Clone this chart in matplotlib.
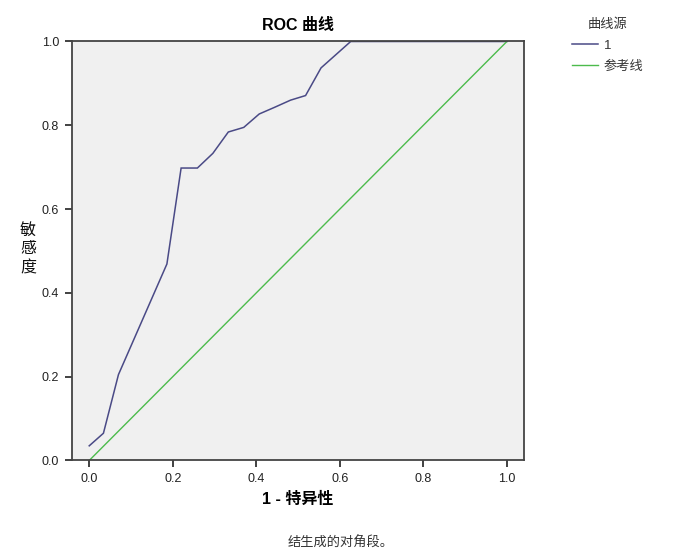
import matplotlib
matplotlib.use("Agg")
import matplotlib.pyplot as plt
from matplotlib.lines import Line2D

plt.rcParams['font.family'] = ['Liberation Sans', 'Noto Sans CJK SC', 'DejaVu Sans']

# ROC curve data (1 - specificity, sensitivity)
fpr = [0.0, 0.034, 0.070, 0.186, 0.220, 0.259, 0.296, 0.333, 0.370, 0.407, 0.444, 0.482, 0.518, 0.555, 0.626, 1.0]
tpr = [0.035, 0.065, 0.205, 0.469, 0.698, 0.698, 0.733, 0.784, 0.795, 0.827, 0.843, 0.860, 0.871, 0.937, 1.0, 1.0]
ref_x = [0.0, 1.0]
ref_y = [0.0, 1.0]
ticks = [0.0, 0.2, 0.4, 0.6, 0.8, 1.0]
tick_labels = ["0.0", "0.2", "0.4", "0.6", "0.8", "1.0"]

curve_color = "#4A4A86"
ref_color = "#4CBB4C"

fig = plt.figure(figsize=(7, 5.6), dpi=100)
ax = fig.add_axes([0.1024, 0.1777, 0.6462, 0.7482])
ax.set_facecolor("#F0F0F0")

ax.plot(fpr, tpr, color=curve_color, lw=1.1, solid_joinstyle='miter')
ax.plot(ref_x, ref_y, color=ref_color, lw=1.0)

ax.set_xlim(-0.042, 1.041)
ax.set_ylim(0.0, 1.0)
ax.set_xticks(ticks)
ax.set_xticklabels(tick_labels)
ax.set_yticks(ticks)
ax.set_yticklabels(tick_labels)
ax.tick_params(direction='out', length=5, width=1.3, labelsize=9, color="#333333", labelcolor="#222222", pad=4)
for s in ax.spines.values():
    s.set_color("#444444")
    s.set_linewidth(1.3)

ax.set_title("ROC 曲线", fontsize=11.5, fontweight='bold', pad=8,
             family=['Liberation Sans', 'Noto Sans CJK SC'])
ax.set_xlabel("1 - 特异性", fontsize=11.5, fontweight='bold', labelpad=5,
              family=['Liberation Sans', 'Noto Sans CJK SC'])
fig.text(28 / 700, 1 - 249 / 560, "敏\n感\n度", fontsize=11.5, fontweight='normal',
         ha='center', va='center', linespacing=1.15, family=['Noto Sans CJK SC'], color="#111111")

fig.text(288 / 700, 1 - 543 / 560, "结生成的对角段。", fontsize=9.5, ha='left', va='center',
         family=['Noto Sans CJK SC'], color="#333333")

handles = [Line2D([], [], color=curve_color, lw=1.1), Line2D([], [], color=ref_color, lw=1.0)]
leg = fig.legend(handles, ["1", "参考线"], title="曲线源", loc='upper left',
                 bbox_to_anchor=(560 / 700, 1 - 6 / 560), frameon=False,
                 handlelength=2.0, handletextpad=0.4,
                 labelspacing=0.65, title_fontsize=9.5,
                 prop={'family': ['Liberation Sans', 'Noto Sans CJK SC'], 'size': 9.5})
leg.get_title().set_family(['Noto Sans CJK SC'])
leg.get_title().set_color("#333333")
for t in leg.get_texts():
    t.set_color("#333333")

fig.savefig("out.png", dpi=100)
